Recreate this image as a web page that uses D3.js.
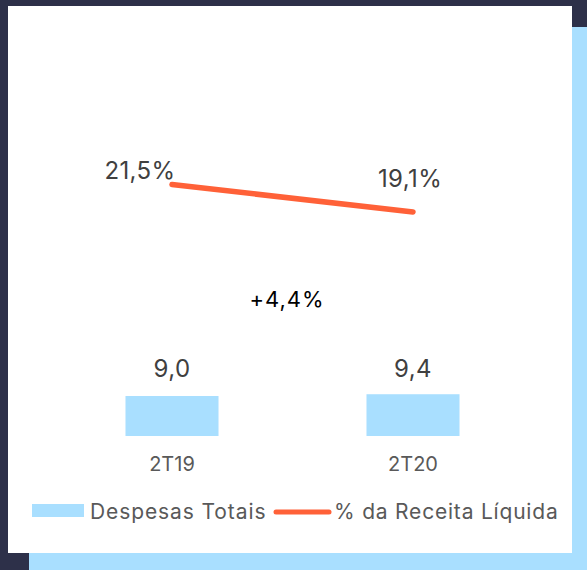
<!DOCTYPE html>
<html>
<head>
<meta charset="utf-8">
<script src="https://cdn.jsdelivr.net/npm/d3@7"></script>
<style>
  html, body { margin: 0; padding: 0; background: #2d3049; }
  svg { display: block; }
  text { font-family: Inter, "Open Sans", sans-serif; }
</style>
</head>
<body>
<script>
// chart data
const categories = ['2T19', '2T20'];
const despesas = [9.0, 9.4];
const despesasLabels = ['9,0', '9,4'];
const receitaPct = [21.5, 19.1];
const receitaLabels = ['21,5%', '19,1%'];
const variacao = '+4,4%';
const legendNames = ['Despesas Totais', '% da Receita Líquida'];

const W = 587, H = 570;
const barColor = '#a9dfff', lineColor = '#ff6138';

const svg = d3.select('body').append('svg')
    .attr('width', W)
    .attr('height', H);

// background panels
svg.append('rect').attr('width', W).attr('height', H).attr('fill', '#2d3049');
svg.append('rect').attr('x', 29).attr('y', 27).attr('width', W - 29).attr('height', H - 27).attr('fill', '#a9dfff');
svg.append('rect').attr('x', 8).attr('y', 6).attr('width', 564).attr('height', 547).attr('fill', '#fff');

const x = d3.scaleBand()
    .domain(categories)
    .range([51.5, 533.5])
    .paddingInner(0.614)
    .paddingOuter(0.307);

const yBar = d3.scaleLinear().domain([0, 9]).range([436, 396]);
const yLine = d3.scaleLinear().domain([0, 21.5]).range([431, 184.5]);

const cx = d => x(d) + x.bandwidth() / 2;

// bars
svg.append('g')
   .selectAll('rect')
   .data(categories)
   .enter().append('rect')
   .attr('x', d => x(d))
   .attr('y', (d, i) => yBar(despesas[i]))
   .attr('width', x.bandwidth())
   .attr('height', (d, i) => yBar(0) - yBar(despesas[i]))
   .attr('fill', barColor);

svg.append('g')
   .selectAll('text')
   .data(categories)
   .enter().append('text')
   .attr('x', d => cx(d))
   .attr('y', 377)
   .attr('text-anchor', 'middle')
   .attr('font-size', 24)
   .attr('letter-spacing', 0.4)
   .attr('fill', '#404040')
   .text((d, i) => despesasLabels[i]);

// category axis labels
svg.append('g')
   .selectAll('text')
   .data(categories)
   .enter().append('text')
   .attr('x', d => cx(d))
   .attr('y', 470.5)
   .attr('text-anchor', 'middle')
   .attr('font-size', 20)
   .attr('fill', '#595959')
   .text(d => d);

// line
const line = d3.line()
    .x((d, i) => cx(categories[i]))
    .y(d => yLine(d));

svg.append('path')
   .datum(receitaPct)
   .attr('d', line)
   .attr('fill', 'none')
   .attr('stroke', lineColor)
   .attr('stroke-width', 5.5)
   .attr('stroke-linecap', 'round');

// line labels (offsets follow the original placement)
const lineLabelPos = [{dx: -32, dy: -6}, {dx: -3, dy: -25}];
svg.append('g')
   .selectAll('text')
   .data(receitaPct)
   .enter().append('text')
   .attr('x', (d, i) => cx(categories[i]) + lineLabelPos[i].dx)
   .attr('y', (d, i) => yLine(d) + lineLabelPos[i].dy)
   .attr('text-anchor', 'middle')
   .attr('font-size', 24)
   .attr('letter-spacing', 0.4)
   .attr('fill', '#404040')
   .text((d, i) => receitaLabels[i]);

// variation
svg.append('text')
   .attr('x', 287)
   .attr('y', 307)
   .attr('text-anchor', 'middle')
   .attr('font-size', 22)
   .attr('letter-spacing', 1)
   .attr('fill', '#000')
   .text(variacao);

// legend
const legend = svg.append('g');
legend.append('rect')
   .attr('x', 32).attr('y', 504)
   .attr('width', 52).attr('height', 13)
   .attr('fill', barColor);
legend.append('text')
   .attr('x', 90).attr('y', 519)
   .attr('font-size', 21)
   .attr('letter-spacing', 0.9)
   .attr('fill', '#595959')
   .text(legendNames[0]);
legend.append('line')
   .attr('x1', 276).attr('x2', 329)
   .attr('y1', 512).attr('y2', 512)
   .attr('stroke', lineColor)
   .attr('stroke-width', 5)
   .attr('stroke-linecap', 'round');
legend.append('text')
   .attr('x', 334).attr('y', 519)
   .attr('font-size', 21)
   .attr('letter-spacing', 0.8)
   .attr('fill', '#595959')
   .text(legendNames[1]);
</script>
</body>
</html>
